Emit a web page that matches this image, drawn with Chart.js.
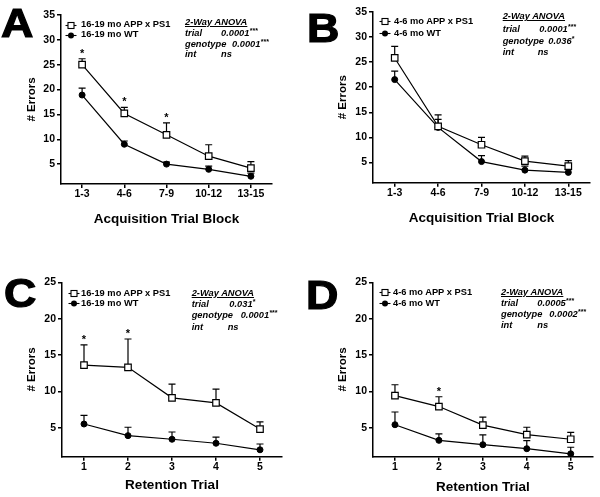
<!DOCTYPE html>
<html>
<head>
<meta charset="utf-8">
<script src="https://cdn.jsdelivr.net/npm/chart.js@4.4.1/dist/chart.umd.min.js"></script>
<style>
  body { margin: 0; background: #fff; }
  #fig { position: relative; width: 600px; height: 497px; overflow: hidden; background: #fff;
         font-family: Arial, "Liberation Sans", sans-serif; color: #000; }
  #fig canvas { position: absolute; }
  .t { position: absolute; white-space: nowrap; line-height: 1; font-weight: bold; }
  .letter { transform-origin: 0 0; -webkit-text-stroke: 1.2px #000; }
  .it { font-style: italic; }
  .sup { font-size: 7px; position: relative; top: -3px; line-height: 0; }
</style>
</head>
<body>
<div id="fig"></div>
<script>
const blockLabels = ['1-3', '4-6', '7-9', '10-12', '13-15'];
const trialLabels = ['1', '2', '3', '4', '5'];
const acqTicks = [5, 10, 15, 20, 25, 30, 35];
const retTicks = [5, 10, 15, 20, 25];

// A - 16-19 mo, acquisition
const aAppMean = [25.0, 15.2, 10.9, 6.6, 4.2];
const aAppSem  = [1.2, 1.2, 2.4, 2.3, 1.3];
const aWtMean  = [18.9, 9.0, 5.0, 3.95, 2.55];
const aWtSem   = [1.4, 0.65, 0.4, 0.65, 0.65];
const aSig     = [1, 1, 1, 0, 0];
const aAnova   = [['trial', '0.0001', '***'], ['genotype', '0.0001', '***'], ['int', 'ns', '']];

// B - 4-6 mo, acquisition
const bAppMean = [25.8, 12.2, 8.55, 5.3, 4.3];
const bAppSem  = [2.3, 2.3, 1.45, 1.0, 1.1];
const bWtMean  = [21.5, 12.0, 5.2, 3.5, 3.05];
const bWtSem   = [1.7, 1.6, 1.2, 0.8, 0.55];
const bSig     = [0, 0, 0, 0, 0];
const bAnova   = [['trial', '0.0001', '***'], ['genotype', '0.036', '*'], ['int', 'ns', '']];

// C - 16-19 mo, retention
const cAppMean = [13.6, 13.3, 9.1, 8.4, 4.8];
const cAppSem  = [2.8, 3.9, 1.9, 1.9, 1.0];
const cWtMean  = [5.5, 3.9, 3.4, 2.85, 1.95];
const cWtSem   = [1.2, 1.15, 1.0, 0.85, 0.8];
const cSig     = [1, 1, 0, 0, 0];
const cAnova   = [['trial', '0.031', '*'], ['genotype', '0.0001', '***'], ['int', 'ns', '']];

// D - 4-6 mo, retention
const dAppMean = [9.4, 7.9, 5.35, 4.05, 3.4];
const dAppSem  = [1.5, 1.35, 1.1, 1.0, 0.95];
const dWtMean  = [5.4, 3.25, 2.65, 2.1, 1.4];
const dWtSem   = [1.75, 0.9, 1.35, 1.1, 0.9];
const dSig     = [0, 1, 0, 0, 0];
const dAnova   = [['trial', '0.0005', '***'], ['genotype', '0.0002', '***'], ['int', 'ns', '']];

const FONT = 'Arial, "Liberation Sans", sans-serif';
const fig = document.getElementById('fig');

const panels = [
  { letter: 'A', x: 0, y: 0, h: 250, labels: blockLabels, yTicks: acqTicks, yMax: 35,
    app: aAppMean, appSem: aAppSem, wt: aWtMean, wtSem: aWtSem, sig: aSig, anova: aAnova,
    names: ['16-19 mo APP x PS1', '16-19 mo WT'], xTitle: 'Acquisition Trial Block',
    pad: { left: 20, top: 15, right: 28, bottom: 22.9 }, yW: 41, xH: 43.1,
    letterPos: [1, 3], leg: { mx: 71, tx: 81, rows: [25, 35] },
    an: { hx: 185, rows: [22.7, 33.7, 44.5, 55], vx: [221, 232, 221] } },
  { letter: 'B', x: 300, y: 0, h: 250, labels: blockLabels, yTicks: acqTicks, yMax: 35,
    app: bAppMean, appSem: bAppSem, wt: bWtMean, wtSem: bWtSem, sig: bSig, anova: bAnova,
    names: ['4-6 mo APP x PS1', '4-6 mo WT'], xTitle: 'Acquisition Trial Block',
    pad: { left: 31, top: 11.7, right: 10, bottom: 23.6 }, yW: 42, xH: 43.7,
    letterPos: [307, 8], leg: { mx: 385, tx: 394, rows: [21.7, 33.3] },
    an: { hx: 502.7, rows: [16.7, 29.3, 41.7, 52.3], vx: [539.3, 548.3, 537.7] } },
  { letter: 'C', x: 0, y: 250, h: 247, labels: trialLabels, yTicks: retTicks, yMax: 25,
    app: cAppMean, appSem: cAppSem, wt: cWtMean, wtSem: cWtSem, sig: cSig, anova: cAnova,
    names: ['16-19 mo APP x PS1', '16-19 mo WT'], xTitle: 'Retention Trial',
    pad: { left: 20, top: 32.3, right: 18, bottom: 3.2 }, yW: 42, xH: 37.1,
    letterPos: [4, 273], leg: { mx: 74, tx: 81, rows: [293.3, 303.3] },
    an: { hx: 191.7, rows: [293.3, 304.3, 315.7, 327.3], vx: [229.3, 240.7, 227.7] } },
  { letter: 'D', x: 300, y: 250, h: 247, labels: trialLabels, yTicks: retTicks, yMax: 25,
    app: dAppMean, appSem: dAppSem, wt: dWtMean, wtSem: dWtSem, sig: dSig, anova: dAnova,
    names: ['4-6 mo APP x PS1', '4-6 mo WT'], xTitle: 'Retention Trial',
    pad: { left: 31, top: 32.3, right: 7.3, bottom: 1.6 }, yW: 42, xH: 38.7,
    letterPos: [306, 275], leg: { mx: 385, tx: 393, rows: [292.7, 303.3] },
    an: { hx: 501, rows: [292.3, 303.3, 314.3, 325.7], vx: [537.3, 549.3, 537.3] } }
];

// one-sided (upper) SEM bars + significance stars, placed through the scales
function errorBars(sig) {
  return {
    id: 'errorBars',
    beforeDatasetsDraw(chart) {
      const ctx = chart.ctx, ys = chart.scales.y;
      ctx.save();
      ctx.strokeStyle = '#000';
      ctx.lineWidth = 1.2;
      chart.data.datasets.forEach((ds, di) => {
        const meta = chart.getDatasetMeta(di);
        ds.data.forEach((v, i) => {
          const x = meta.data[i].x;
          const y0 = ys.getPixelForValue(v);
          const y1 = ys.getPixelForValue(v + ds.sem[i]);
          ctx.beginPath();
          ctx.moveTo(x, y0); ctx.lineTo(x, y1);
          ctx.moveTo(x - 3.5, y1); ctx.lineTo(x + 3.5, y1);
          ctx.stroke();
        });
      });
      ctx.restore();
    },
    afterDatasetsDraw(chart) {
      const ctx = chart.ctx, ys = chart.scales.y;
      const ds = chart.data.datasets[0], meta = chart.getDatasetMeta(0);
      ctx.save();
      ctx.fillStyle = '#000';
      ctx.font = 'bold 11px ' + FONT;
      ctx.textAlign = 'center';
      ctx.textBaseline = 'alphabetic';
      sig.forEach((s, i) => {
        if (!s) return;
        const y = ys.getPixelForValue(ds.data[i] + ds.sem[i]);
        ctx.fillText('*', meta.data[i].x, y - 2);
      });
      ctx.restore();
    }
  };
}

function txt(x, cy, html, size, cls) {
  const d = document.createElement('div');
  d.className = 't ' + (cls || '');
  d.style.left = x + 'px';
  d.style.top = (cy - size / 2) + 'px';
  d.style.fontSize = size + 'px';
  d.innerHTML = html;
  fig.appendChild(d);
  return d;
}

function legendMark(mx, cy, square) {
  const s = square
    ? '<rect x="3" y="1.5" width="6" height="6" fill="#fff" stroke="#000" stroke-width="1.1"/>'
    : '<circle cx="6" cy="4.5" r="3" fill="#000"/>';
  const d = document.createElement('div');
  d.className = 't';
  d.style.left = (mx - 6) + 'px';
  d.style.top = (cy - 4.5) + 'px';
  d.innerHTML = '<svg width="12" height="9" style="display:block"><line x1="0.5" y1="4.5" x2="11.5" y2="4.5" stroke="#000" stroke-width="1.1"/>' + s + '</svg>';
  fig.appendChild(d);
}

function makePanel(p) {
  const cv = document.createElement('canvas');
  cv.width = 300; cv.height = p.h;
  cv.style.left = p.x + 'px'; cv.style.top = p.y + 'px';
  cv.style.width = '300px'; cv.style.height = p.h + 'px';
  fig.appendChild(cv);

  const axisGrid = { drawOnChartArea: false, drawTicks: true, tickLength: 4, color: '#000', lineWidth: 1.5 };
  const axisBorder = { display: true, color: '#000', width: 1.5 };
  const tickFont = { family: FONT, size: 10.5, weight: 'bold' };

  new Chart(cv, {
    type: 'line',
    data: {
      labels: p.labels,
      datasets: [
        { label: p.names[0], data: p.app, sem: p.appSem, borderColor: '#000', borderWidth: 1.2,
          pointStyle: 'rect', pointRadius: 4.6, pointBackgroundColor: '#fff',
          pointBorderColor: '#000', pointBorderWidth: 1.2, tension: 0 },
        { label: p.names[1], data: p.wt, sem: p.wtSem, borderColor: '#000', borderWidth: 1.2,
          pointStyle: 'circle', pointRadius: 3, pointBackgroundColor: '#000',
          pointBorderColor: '#000', pointBorderWidth: 1, tension: 0 }
      ]
    },
    options: {
      responsive: false, animation: false, devicePixelRatio: 1,
      layout: { padding: p.pad },
      plugins: { legend: { display: false }, tooltip: { enabled: false } },
      scales: {
        x: {
          type: 'category', offset: true,
          grid: axisGrid, border: axisBorder,
          ticks: { color: '#000', font: tickFont, padding: 0, maxRotation: 0, autoSkip: false },
          title: { display: true, text: p.xTitle, color: '#000',
                   font: { family: FONT, size: 13.5, weight: 'bold' }, padding: 0 },
          afterFit: s => { s.height = p.xH; }
        },
        y: {
          type: 'linear', min: 1, max: p.yMax,
          afterBuildTicks: s => { s.ticks = p.yTicks.map(v => ({ value: v })); },
          grid: axisGrid, border: axisBorder,
          ticks: { color: '#000', font: tickFont, padding: 2 },
          title: { display: true, text: '# Errors', color: '#000',
                   font: { family: FONT, size: 11.5, weight: 'bold' }, padding: { top: 5, bottom: 0 } },
          afterFit: s => { s.width = p.yW; }
        }
      }
    },
    plugins: [errorBars(p.sig)]
  });

  // panel letter
  const L = txt(p.letterPos[0], p.letterPos[1] + 20, p.letter, 40, 'letter');
  L.style.transform = 'scaleX(1.12)';

  // legend
  legendMark(p.leg.mx, p.leg.rows[0], true);
  legendMark(p.leg.mx, p.leg.rows[1], false);
  txt(p.leg.tx, p.leg.rows[0], p.names[0], 9.3);
  txt(p.leg.tx, p.leg.rows[1], p.names[1], 9.3);

  // ANOVA box
  txt(p.an.hx, p.an.rows[0], '<u>2-Way ANOVA</u>', 9.3, 'it');
  p.anova.forEach((r, i) => {
    txt(p.an.hx, p.an.rows[i + 1], r[0], 9.3, 'it');
    txt(p.an.vx[i], p.an.rows[i + 1], r[1] + (r[2] ? '<span class="sup">' + r[2] + '</span>' : ''), 9.3, 'it');
  });
}

panels.forEach(makePanel);
</script>
</body>
</html>
